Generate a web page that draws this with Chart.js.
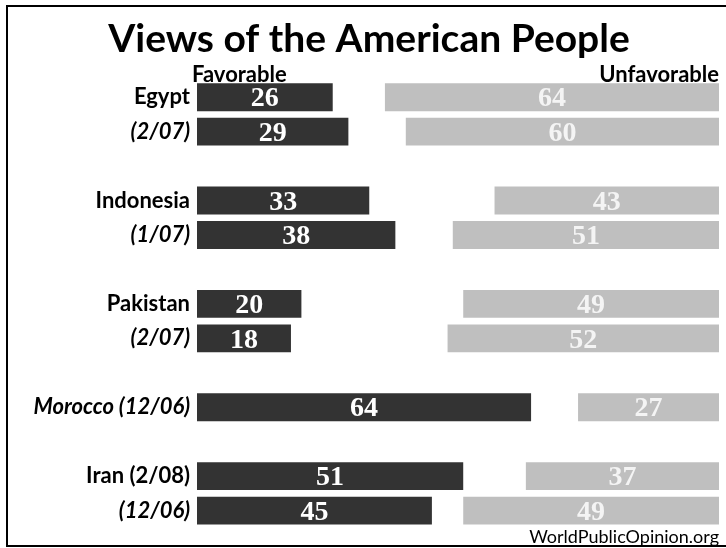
<!DOCTYPE html>
<html>
<head>
<meta charset="utf-8">
<script src="https://cdn.jsdelivr.net/npm/chart.js@4"></script>
<style>
  html, body { margin: 0; padding: 0; background: #fff; }
  #wrap { width: 726px; height: 548px; }
</style>
</head>
<body>
<div id="wrap"><canvas id="viewsChart" width="726" height="548"></canvas></div>
<script>
// data ('' rows are spacers between countries)
const labels = ['Egypt', '(2/07)', '', 'Indonesia', '(1/07)', '', 'Pakistan', '(2/07)', '', 'Morocco (12/06)', '', 'Iran (2/08)', '(12/06)'];
const favorable = [26, 29, null, 33, 38, null, 20, 18, null, 64, null, 51, 45];
const unfavorable = [64, 60, null, 43, 51, null, 49, 52, null, 27, null, 37, 49];
const italicRows = [1, 4, 7, 9, 12];

const title = 'Views of the American People';
const source = 'WorldPublicOpinion.org';

// unfavorable bars hang from the right end of the 0-100 scale
const unfavRange = unfavorable.map(v => v === null ? null : [100 - v, 100]);

const framePlugin = {
    id: 'frame',
    beforeDraw(chart) {
        const c = chart.ctx;
        c.save();
        c.fillStyle = '#fff';
        c.fillRect(0, 0, chart.width, chart.height);
        c.strokeStyle = '#000';
        c.lineWidth = 2;
        c.beginPath();
        c.moveTo(chart.width, 6);
        c.lineTo(7, 6);
        c.lineTo(7, 546);
        c.lineTo(chart.width, 546);
        c.stroke();
        c.restore();
    },
    afterDraw(chart) {
        const c = chart.ctx;
        const area = chart.chartArea;
        c.save();
        c.fillStyle = '#000';
        c.textBaseline = 'alphabetic';

        // title
        c.font = 'bold 39px Lato';
        c.textAlign = 'center';
        c.fillText(title, 369, 52);

        // column headers
        c.font = 'bold 22px Lato';
        c.textAlign = 'left';
        c.fillText('Favorable', area.left - 5, 82);
        c.textAlign = 'right';
        c.fillText('Unfavorable', area.right, 82);

        // source
        c.font = '18px Lato';
        c.fillText(source, area.right, 543);
        c.restore();
    }
};

const valueLabels = {
    id: 'valueLabels',
    afterDatasetsDraw(chart) {
        const c = chart.ctx;
        c.save();
        c.font = 'bold 28px "Liberation Serif"';
        c.textAlign = 'center';
        c.textBaseline = 'middle';
        chart.data.datasets.forEach((ds, di) => {
            const meta = chart.getDatasetMeta(di);
            c.fillStyle = di === 0 ? '#fff' : '#f4f4f4';
            meta.data.forEach((bar, i) => {
                const raw = di === 0 ? favorable[i] : unfavorable[i];
                if (raw === null) return;
                const p = bar.getCenterPoint();
                c.fillText(String(raw), p.x, p.y + 2);
            });
        });
        c.restore();
    }
};

new Chart(document.getElementById('viewsChart'), {
    type: 'bar',
    data: {
        labels: labels,
        datasets: [{
            label: 'Favorable',
            data: favorable,
            backgroundColor: '#333333',
            grouped: false,
            categoryPercentage: 1,
            barPercentage: 0.81
        }, {
            label: 'Unfavorable',
            data: unfavRange,
            backgroundColor: '#bfbfbf',
            grouped: false,
            categoryPercentage: 1,
            barPercentage: 0.81
        }]
    },
    options: {
        indexAxis: 'y',
        responsive: false,
        animation: false,
        layout: { padding: { left: 0, right: 7, top: 80, bottom: 20 } },
        plugins: {
            legend: { display: false },
            tooltip: { enabled: false }
        },
        scales: {
            x: { display: false, min: 0, max: 100 },
            y: {
                grid: { display: false, drawTicks: false },
                border: { display: false },
                afterFit(scale) { scale.width = 197; },
                ticks: {
                    padding: 7,
                    color: '#000',
                    autoSkip: false,
                    font: (ctx) => ({
                        family: 'Lato',
                        size: 22,
                        weight: 'bold',
                        style: italicRows.includes(ctx.index) ? 'italic' : 'normal'
                    })
                }
            }
        }
    },
    plugins: [framePlugin, valueLabels]
});
</script>
</body>
</html>
